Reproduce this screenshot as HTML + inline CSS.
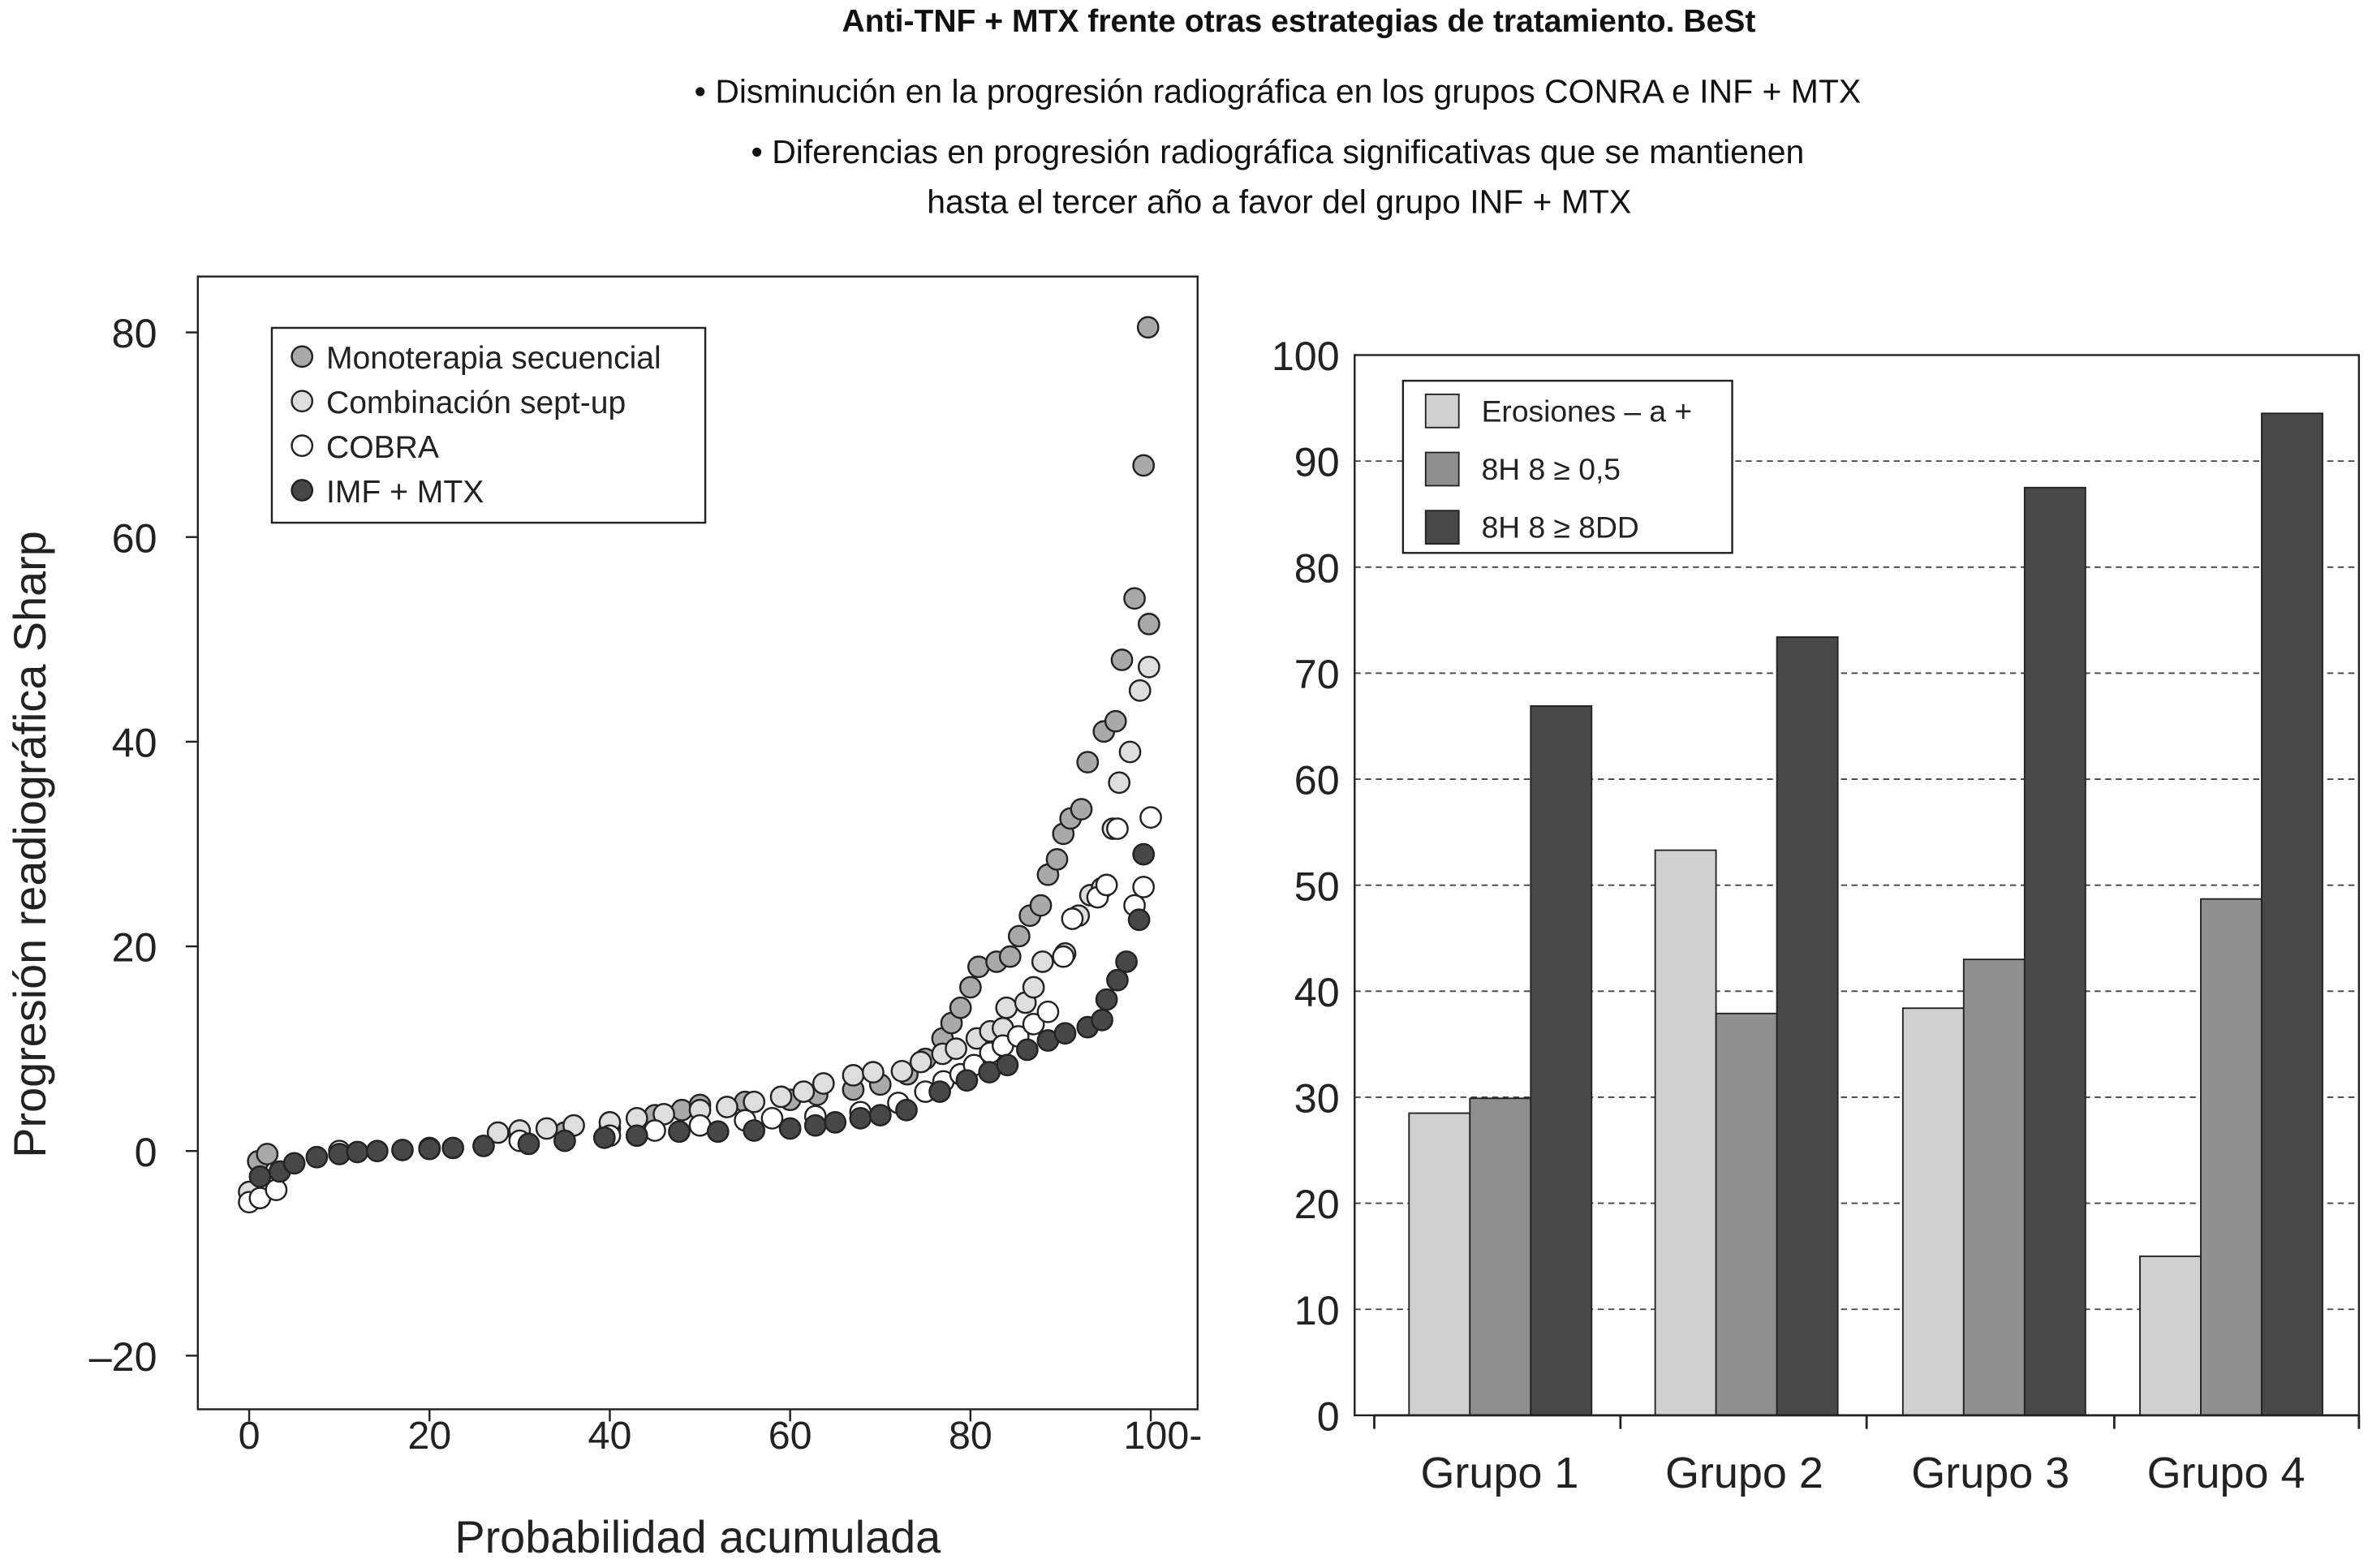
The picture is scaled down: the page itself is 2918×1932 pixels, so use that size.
<!DOCTYPE html>
<html><head><meta charset="utf-8"><style>
html,body{margin:0;padding:0;background:#fff;}
svg{display:block;font-family:"Liberation Sans",Arial,sans-serif;}
</style></head><body>
<svg id="root" width="2918" height="1932" viewBox="0 0 1568 1038" xmlns="http://www.w3.org/2000/svg">
<rect width="1568" height="1038" fill="#fff"/>
<g fill="#111" text-anchor="middle">
<text x="860" y="21" font-size="21" font-weight="bold">Anti-TNF + MTX frente otras estrategias de tratamiento. BeSt</text>
<text x="846" y="68" font-size="22">• Disminución en la progresión radiográfica en los grupos CONRA e INF + MTX</text>
<text x="846" y="108" font-size="22">• Diferencias en progresión radiográfica significativas que se mantienen</text>
<text x="847" y="141" font-size="22">hasta el tercer año a favor del grupo INF + MTX</text>
</g>
<g id="scatter"></g>
<g id="bars"></g>
</svg>
<script>
const NS="http://www.w3.org/2000/svg";
function mk(parent,tag,attrs,text){const e=document.createElementNS(NS,tag);for(const k in attrs)e.setAttribute(k,attrs[k]);if(text!==undefined)e.textContent=text;parent.appendChild(e);return e;}

// ---- scatter data ----
const xTicks=[0,20,40,60,80,100];
const xTickLabels=["0","20","40","60","80","100-"];
const yTicks=[-20,0,20,40,60,80];
const yTickLabels=["\u201320","0","20","40","60","80"];
const seriesNames=["Monoterapia secuencial","Combinación sept-up","COBRA","IMF + MTX"];
const monoX=[1,2,30,35,40,45,48,50,55,60,63,67,70,73,75,76.9,77.9,78.9,80,80.9,82.9,84.4,85.4,86.6,87.8,88.6,89.6,90.3,91.1,92.3,93,94.8,96.1,96.8,98.2,99.2,99.7,99.8];
const monoY=[-1,-0.3,1.5,1.8,2.2,3.5,4,4.5,4.8,5,5.5,6,6.5,7.5,9,11,12.5,14,16,18,18.5,19,21,23,24,27,28.5,31,32.5,33.4,38,41,42,48,54,67,80.5,51.5];
const combX=[0,27.6,30,33,36,40,43,46,50,53,56,59,61.5,63.7,67,69.2,72.4,74.5,76.9,78.4,80.7,82.2,83.6,84,86.1,87,88,90.5,92,93.3,94.6,95.8,96.5,97.7,98.8,99.8];
const combY=[-4,1.8,2,2.2,2.5,2.8,3.2,3.6,4,4.3,4.8,5.3,5.8,6.6,7.4,7.7,7.8,8.7,9.5,10,11,11.7,12,14,14.5,16,18.5,19.3,23,25,25.7,31.5,36,39,45,47.3];
const cobraX=[0,1.2,3,10,20,30,40,45,50,55,58,62.8,67.8,72,75,77,78.9,80.4,82.2,83.6,85.3,87,88.6,90.3,91.3,94.1,95.1,96.3,98.2,99.2,100];
const cobraY=[-5,-4.6,-3.8,0,0.3,1,1.5,2,2.5,3,3.2,3.4,3.8,4.7,5.8,6.8,7.5,8.4,9.6,10.3,11.2,12.4,13.6,19,22.7,24.8,26,31.5,24,25.8,32.6];
const imfX=[1.2,3.4,5,7.5,10,12,14.2,17,20,22.6,26,31,35,39.4,43,47.7,52,56,60,62.8,65,67.8,70,72.9,76.6,79.6,82.1,84.1,86.3,88.6,90.5,93,94.6,95.1,96.3,97.3,98.7,99.2];
const imfY=[-2.5,-2,-1.2,-0.6,-0.3,-0.1,0,0.1,0.2,0.3,0.5,0.7,1,1.3,1.5,1.9,1.9,2,2.2,2.5,2.8,3.2,3.5,4,5.8,6.9,7.7,8.4,9.9,10.8,11.5,12.1,12.8,14.8,16.7,18.5,22.6,29];
const seriesX=[monoX,combX,cobraX,imfX];
const seriesY=[monoY,combY,cobraY,imfY];
const seriesFill=["#a9a9a9","#dedede","#ffffff","#474747"];

const sx=v=>165+v*5.97;
const sy=v=>762-v*6.775;
const sc=document.getElementById('scatter');
const frame=mk(sc,'rect',{x:131,y:183,width:662,height:750,fill:'none',stroke:'#222','stroke-width':1.3});


xTicks.forEach((t,i)=>{
  const l=mk(sc,'line',{x1:sx(t),x2:sx(t),y1:933,y2:941,stroke:'#222','stroke-width':1.3});
  
  
  const tx=mk(sc,'text',{x:sx(t)+(i===5?8:0),y:959,'font-size':26,'text-anchor':'middle',fill:'#222'},xTickLabels[i]);
  
  
});
yTicks.forEach((t,i)=>{
  const l=mk(sc,'line',{x1:123,x2:131,y1:sy(t),y2:sy(t),stroke:'#222','stroke-width':1.3});
  
  
  const tx=mk(sc,'text',{x:104,y:sy(t)+10,'font-size':27,'text-anchor':'end',fill:'#222'},yTickLabels[i]);
  
  
});
const yl=mk(sc,'text',{x:0,y:0,'font-size':30,'text-anchor':'middle',fill:'#222',transform:'translate(30,559) rotate(-90)'},'Progresión readiográfica Sharp');


const xl=mk(sc,'text',{x:462,y:1028,'font-size':30,'text-anchor':'middle',fill:'#222'},'Probabilidad acumulada');


seriesX.forEach((xs,s)=>{
  xs.forEach((xv,i)=>{
    const c=mk(sc,'circle',{cx:sx(xv),cy:sy(seriesY[s][i]),r:6.8,fill:seriesFill[s],stroke:'#222','stroke-width':1.3});
    
    
  });
});
const lg=mk(sc,'g',{});


mk(lg,'rect',{x:180,y:217,width:287,height:129,fill:'#fff',stroke:'#222','stroke-width':1.3});
seriesNames.forEach((n,i)=>{
  const y=236+i*29.5;
  const e=mk(lg,'g',{});
  
  
  mk(e,'circle',{cx:200,cy:y,r:6.8,fill:seriesFill[i],stroke:'#222','stroke-width':1.3});
  mk(e,'text',{x:216,y:y+8,'font-size':21,fill:'#222'},n);
});

// ---- bar data ----
const groups=["Grupo 1","Grupo 2","Grupo 3","Grupo 4"];
const erosiones=[28.5,53.3,38.4,15];
const sh05=[29.9,37.9,43,48.7];
const sh8dd=[66.9,73.4,87.5,94.5];
const barSeries=[erosiones,sh05,sh8dd];
const barNames=["Erosiones \u2013 a +","8H 8 \u2265 0,5","8H 8 \u2265 8DD"];
const barFill=["#d0d0d0","#8f8f8f","#484848"];
const bTicks=[0,10,20,30,40,50,60,70,80,90,100];
const bx=document.getElementById('bars');
const by=v=>937-v*7.02;
const groupLeft=[933,1096,1260,1417];
const gcenter=[993,1155,1318,1474];
bTicks.forEach(t=>{
  if(t>0&&t<100){const g=mk(bx,'line',{x1:897,x2:1562,y1:by(t),y2:by(t),stroke:'#444','stroke-width':1,'stroke-dasharray':'4,3'});
  
  }
  const tx=mk(bx,'text',{x:887,y:by(t)+10,'font-size':27,'text-anchor':'end',fill:'#222'},String(t));
  
  
});
const bf=mk(bx,'rect',{x:897,y:by(100),width:665,height:by(0)-by(100),fill:'none',stroke:'#222','stroke-width':1.3});


groups.forEach((g,gi)=>{
  barSeries.forEach((vals,s)=>{
    const r=mk(bx,'rect',{x:groupLeft[gi]+s*40.3,y:by(vals[gi]),width:40.3,height:by(0)-by(vals[gi]),fill:barFill[s],stroke:'#222','stroke-width':1});
    
    
  });
  const tx=mk(bx,'text',{x:gcenter[gi],y:985,'font-size':29,'text-anchor':'middle',fill:'#222'},g);
  
  
});
const ax=mk(bx,'line',{x1:910,x2:1562,y1:937,y2:937,stroke:'#222','stroke-width':1.5});


[910,1073,1236,1400,1562].forEach(x=>{
  const l=mk(bx,'line',{x1:x,x2:x,y1:937,y2:946,stroke:'#222','stroke-width':1.5});
  
  
});
const bl=mk(bx,'g',{});


mk(bl,'rect',{x:929,y:252,width:218,height:114,fill:'#fff',stroke:'#222','stroke-width':1.3});
barNames.forEach((n,i)=>{
  const y=272+i*38.5;
  const e=mk(bl,'g',{});
  
  
  mk(e,'rect',{x:944,y:y-11,width:22,height:22,fill:barFill[i],stroke:'#222','stroke-width':1});
  mk(e,'text',{x:981,y:y+7,'font-size':20,fill:'#222'},n);
});
</script>
</body></html>
